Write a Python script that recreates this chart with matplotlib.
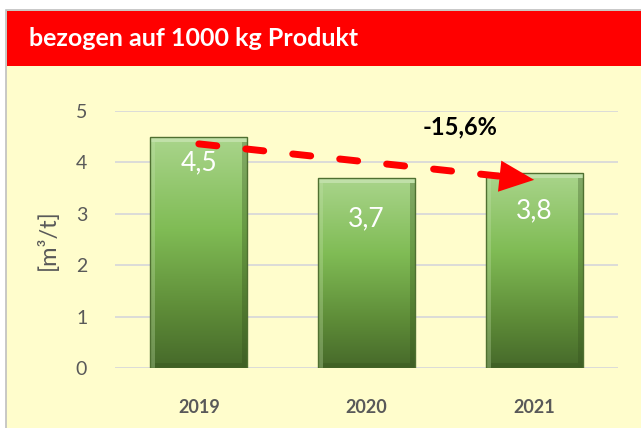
import numpy as np
import matplotlib
matplotlib.use("Agg")
import matplotlib.pyplot as plt
from matplotlib.patches import Rectangle
from matplotlib.colors import LinearSegmentedColormap

# data
jahre = ["2019", "2020", "2021"]
werte = [4.5, 3.7, 3.8]
wert_labels = ["4,5", "3,7", "3,8"]
label_abstand = [0.5, 0.8, 0.75]
titel = "bezogen auf 1000 kg Produkt"
aenderung = "-15,6%"
y_ticks = [0, 1, 2, 3, 4, 5]

plt.rcParams['font.family'] = ['Lato', 'DejaVu Sans']

hintergrund = "#FFFDCC"
grau = "#595959"

fig = plt.figure(figsize=(6.41, 4.28), dpi=100)
fig.patch.set_facecolor("white")

# outer frame + yellow panel
fig.patches.append(Rectangle((6/641, -0.1), 1.2, 1.1 - 10/428, transform=fig.transFigure,
                             facecolor=hintergrund, edgecolor="#BFBFBF", lw=1.2, zorder=-2))
# red header
fig.patches.append(Rectangle((7/641, 1 - 66/428), 1, 55/428, transform=fig.transFigure,
                             facecolor="#FF0000", edgecolor="none", zorder=-1))
fig.text(29/641, 1 - 38/428, titel, color="white", fontsize=18, fontweight="bold",
         va="center", ha="left")

ax = fig.add_axes([115/641, 1 - 368/428, 503/641, 257/428])
ax.set_facecolor(hintergrund)
ax.patch.set_alpha(0)

x = np.arange(len(jahre))
breite = 0.58

ax.set_yticks(y_ticks)
ax.yaxis.grid(True, color="#D9D9D9", lw=1.3)
ax.set_axisbelow(True)
for s in ax.spines.values():
    s.set_visible(False)
ax.tick_params(axis="both", length=0)
ax.tick_params(axis="y", pad=20, labelsize=14, labelcolor=grau)
ax.set_xticks(x)
ax.set_xticklabels(jahre, fontweight="bold", fontsize=13, color=grau)
ax.tick_params(axis="x", pad=22)
ax.set_ylabel("[m³/t]", fontsize=17, color=grau, labelpad=12)

gruen = LinearSegmentedColormap.from_list(
    "gruen", [(0.0, "#46692A"), (0.25, "#5E8C38"), (0.6, "#80BC55"), (1.0, "#AAD58C")])
gradient = np.linspace(0, 1, 256).reshape(-1, 1)

bars = ax.bar(x, werte, width=breite, color="none", edgecolor="#4F7031", lw=1.0, zorder=3)
kante_x = 0.03
kante_y = 0.1
for bar, w in zip(bars, werte):
    x0 = bar.get_x()
    bw = bar.get_width()
    img = ax.imshow(gradient, cmap=gruen, origin="lower", aspect="auto",
                    extent=(x0, x0 + bw, 0, w), zorder=2)
    img.set_clip_path(bar)
    # bevel edges
    ax.bar(x0 + bw / 2, kante_y, bottom=w - kante_y, width=bw,
           color="#D2EABF", alpha=0.6, lw=0, zorder=2.5)
    ax.bar(x0 + kante_x / 2, w - kante_y, width=kante_x,
           color="#C8E4B0", alpha=0.3, lw=0, zorder=2.5)
    ax.bar(x0 + bw - kante_x / 2, w - kante_y, width=kante_x,
           color="#2F4A1A", alpha=0.3, lw=0, zorder=2.5)
    ax.bar(x0 + bw / 2, kante_y, width=bw - 2 * kante_x,
           color="#2F4A1A", alpha=0.25, lw=0, zorder=2.5)
ax.set_xlim(-0.5, 2.5)
ax.set_ylim(0, 5)

for xi, w, lab, off in zip(x, werte, wert_labels, label_abstand):
    ax.text(xi, w - off, lab, color="white", fontsize=19, ha="center", va="center", zorder=5)

# trend arrow
pfeil_start = (0.0, 4.36)
pfeil_ende = (2.0, 3.66)
basis = (pfeil_start[0] + 0.9 * (pfeil_ende[0] - pfeil_start[0]),
         pfeil_start[1] + 0.9 * (pfeil_ende[1] - pfeil_start[1]))
ax.plot([pfeil_start[0], basis[0]], [pfeil_start[1], basis[1]], color="#FF0000", lw=5,
        dashes=(2.6, 4.2), dash_capstyle="round", zorder=6)
ax.annotate("", xy=pfeil_ende, xytext=basis,
            arrowprops=dict(arrowstyle="-|>,head_length=1.0,head_width=0.45",
                            mutation_scale=25, color="#FF0000", lw=0, shrinkA=0, shrinkB=0),
            zorder=6)
ax.text(1.56, 4.69, aenderung, fontsize=17, fontweight="bold", color="black",
        ha="center", va="center", zorder=6)

fig.savefig("out.png", dpi=100, facecolor=fig.get_facecolor())
